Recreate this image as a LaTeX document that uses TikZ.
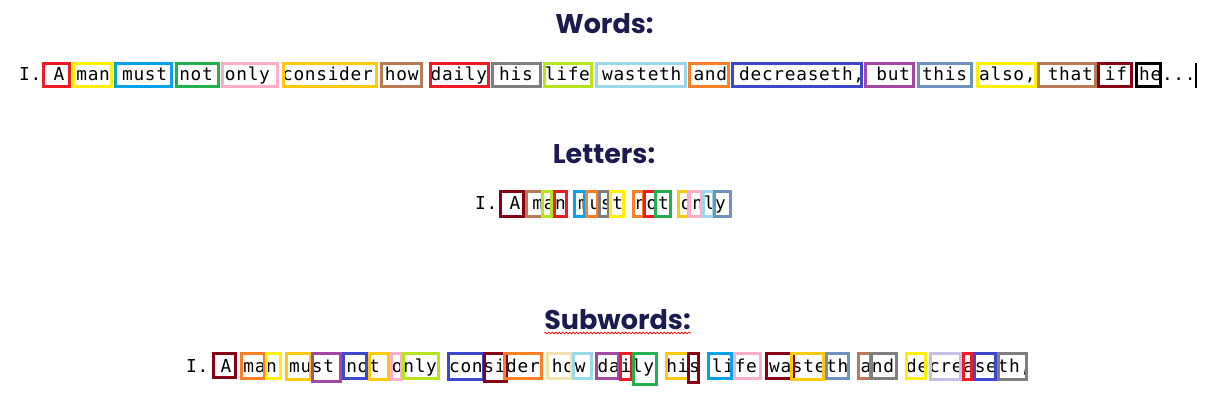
\documentclass[tikz,border=0pt]{standalone}
\usepackage{fontspec}
\newfontfamily\mono[WordSpace={1.0657,0,0},LetterSpace=3.955]{DejaVu Sans Mono}
\newfontfamily\titlefont{Poppins}
\usetikzlibrary{decorations.pathmorphing}
\definecolor{pred}{HTML}{ED1C24}
\definecolor{pyellow}{HTML}{FFF200}
\definecolor{pcyan}{HTML}{00A2E8}
\definecolor{pgreen}{HTML}{22B14C}
\definecolor{ppink}{HTML}{FFAEC9}
\definecolor{pgold}{HTML}{FFC90E}
\definecolor{pbrown}{HTML}{B97A57}
\definecolor{pgray}{HTML}{7F7F7F}
\definecolor{plime}{HTML}{B5E61D}
\definecolor{plblue}{HTML}{99D9EA}
\definecolor{porange}{HTML}{FF7F27}
\definecolor{pindigo}{HTML}{3F48CC}
\definecolor{ppurple}{HTML}{A349A4}
\definecolor{psteel}{HTML}{7092BE}
\definecolor{pdark}{HTML}{880015}
\definecolor{pbeige}{HTML}{EFE4B0}
\definecolor{plav}{HTML}{C8BFE7}
\definecolor{titlecol}{HTML}{1C1A4F}
\begin{document}
\begin{tikzpicture}[x=1pt,y=-1pt,
  title/.style={anchor=base,inner sep=0pt,text=titlecol,font=\titlefont\bfseries\fontsize{27}{30}\selectfont},
  line/.style={anchor=base west,inner sep=0pt,font=\mono\fontsize{17.8}{22}\selectfont},
  tokbox/.style={draw=#1,line width=3.2pt}]
\useasboundingbox[fill=white] (0,0) rectangle (1223,419);
% titles
\node[title] (tw) at (604.5,34) {Words:};
\node[title] (tl) at (604,164) {Letters:};
\node[title] (ts) at (617.5,330) {Subwords:};
\draw[red,line width=0.6pt,decorate,decoration={snake,amplitude=0.9pt,segment length=3.5pt}]
  ([yshift=-3pt]ts.base west) -- ([yshift=-3pt]ts.base east);
% text rows
\node[line] (r1) at (19,81) {I. A man must not only consider how daily his life wasteth and decreaseth, but this also, that if he...};
\node[line] (r2) at (475,210) {I. A man must not only};
\node[line] (r3) at (186,372) {I. A man must not only consider how daily his life wasteth and decreaseth,};
% word boxes
\foreach \c/\a/\b in {pred/42/71, pyellow/72/113, pcyan/114/173, pgreen/175/220, ppink/221/279,
  pgold/282/378, pbrown/380/423, pred/429/490, pgray/491/542, plime/543/593, plblue/595/687,
  porange/688/730, pindigo/731/863, ppurple/864/915, psteel/917/973, pyellow/976/1037,
  pbrown/1037/1097, pdark/1097/1133, black/1135/1162}
  \draw[tokbox=\c] (\a+1.6,63.6) rectangle (\b-1.6,86.6);
\draw[line width=1.3pt] (1196,63) -- (1196,88);
% letter boxes
\foreach \c/\a/\b in {pdark/499/525, pbrown/525/544, plime/541/553, pred/553/568, pcyan/573/586,
  porange/585/599, pgray/598/610, pyellow/609/625, porange/632/645, pred/643/657, pgreen/654/672,
  pgold/677/690, ppink/688/703, plblue/702/715, psteel/713/732}
  \draw[tokbox=\c] (\a+1.6,191.6) rectangle (\b-1.6,216.6);
% subword boxes
\foreach \c/\a/\b/\d in {pdark/212/237/379, porange/240/266/380, pyellow/265/282/380, pgold/285/312/381,
  ppurple/311/342/383, pindigo/342/368/380, pgold/368/390/381, ppink/390/403/381, plime/402/440/380,
  pindigo/447/485/381, pdark/483/508/383, porange/503/543/380, pbeige/546/573/380, plblue/572/593/380,
  ppurple/595/620/380, pred/619/633/381, pgreen/632/658/386, pgold/665/690/380, pdark/687/700/384,
  pcyan/707/733/380, ppink/733/762/380, pdark/765/795/380, pgold/790/825/381, psteel/825/850/380,
  pbrown/857/872/380, pgray/870/898/380, pyellow/905/927/380, plav/929/962/381, pred/962/973/381,
  pindigo/973/997/381, pgray/997/1028/381}
  \draw[tokbox=\c] (\a+1.6,353.6) rectangle (\b-1.6,\d-1.6);
\end{tikzpicture}
\end{document}
